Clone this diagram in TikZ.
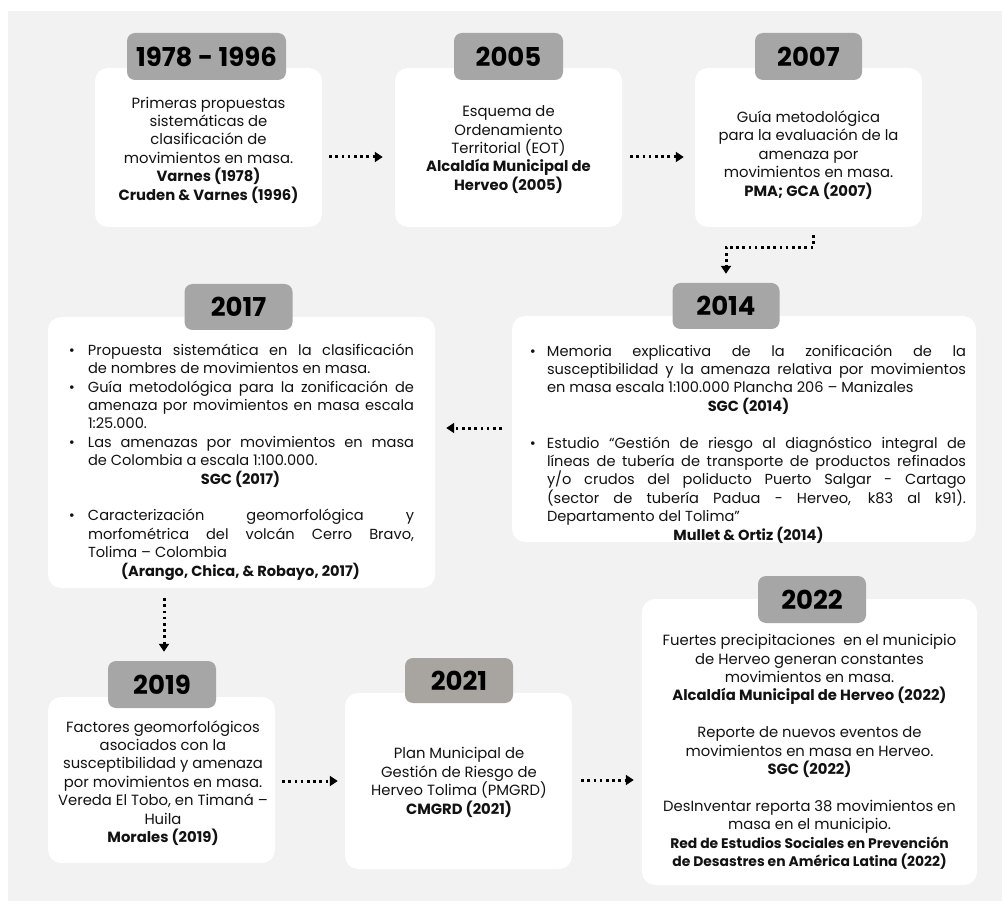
\documentclass[tikz,border=0pt]{standalone}
\usepackage{fontspec}
\setmainfont{Poppins}
\usetikzlibrary{calc,arrows.meta}
\definecolor{bg}{RGB}{242,242,242}
\definecolor{lab}{RGB}{166,166,166}
\definecolor{labw}{RGB}{168,165,160}
\definecolor{ink}{RGB}{18,18,18}
\newcommand\bitemA{\par\noindent\llap{\textbullet\hspace{13pt}}}
\newcommand\bitemB{\par\noindent\llap{\textbullet\hspace{11pt}}}
\newcommand\srcline[1]{\par{\leftskip 0pt plus 1fil\relax\rightskip 0pt plus 1fil\relax\parfillskip 0pt\relax\bfseries #1\par}}
\newcommand\blankline{\par\vspace{18.4pt}}
\newcommand\listsetup[1]{\parindent 0pt\relax\emergencystretch 2em\relax\hfuzz 20pt\relax\rightskip 0pt\relax\leftskip #1\relax}
\newcommand\smallbold[1]{{\fontsize{13.9}{18.4}\selectfont\bfseries #1}}
\tikzset{
  card/.style={fill=white, rounded corners=13pt, inner sep=0pt},
  yearbox/.style={fill=lab, rounded corners=8pt, inner sep=0pt, text=black,
    font=\fontsize{26}{28}\selectfont\bfseries},
  body/.style={align=center, inner sep=0pt, text=ink,
    font=\fontsize{14.8}{18.4}\selectfont},
  blist/.style={inner sep=0pt, text=ink, text width=#1, align=justify,
    font=\fontsize{14.6}{18.4}\selectfont},
  arr/.style={line width=3pt, dash pattern=on 2.6pt off 3.6pt,
    -{Triangle[length=8pt,width=10pt]}},
}
\begin{document}
\begin{tikzpicture}[x=1pt,y=-1pt]
\useasboundingbox (0,0) rectangle (1002,901);
\fill[bg] (8,11) rectangle (1002,901);

% cards
\node[card, minimum width=227, minimum height=159] (b1) at (208.5,147.5) {};
\node[card, minimum width=227, minimum height=159] (b2) at (508.5,147.5) {};
\node[card, minimum width=227, minimum height=159] (b3) at (808.5,147.5) {};
\node[card, minimum width=387, minimum height=271] (b17) at (241.5,452.5) {};
\node[card, minimum width=464, minimum height=226] (b14) at (744,429) {};
\node[card, minimum width=227, minimum height=166] (b19) at (161.5,780) {};
\node[card, minimum width=227, minimum height=176] (b21) at (458.5,781) {};
\node[card, minimum width=335, minimum height=286] (b22) at (809.5,742) {};

% year labels
\node[yearbox, minimum width=159, minimum height=47] (y1) at (206.5,56.5) {1978 - 1996};
\node[yearbox, minimum width=109, minimum height=47] (y2) at (508.5,56.5) {2005};
\node[yearbox, minimum width=107, minimum height=47] (y3) at (808.5,56.5) {2007};
\node[yearbox, minimum width=108, minimum height=46] (y17) at (238.5,307) {2017};
\node[yearbox, minimum width=107, minimum height=46] (y14) at (726,306) {2014};
\node[yearbox, minimum width=108, minimum height=47] (y19) at (162,684.5) {2019};
\node[yearbox, fill=labw, minimum width=108, minimum height=45] (y21) at (459,680.5) {2021};
\node[yearbox, minimum width=108, minimum height=47] (y22) at (812,599.5) {2022};

% texts
\node[body] (t1) at (208.5,150) {Primeras propuestas\\ sistemáticas de\\ clasificación de\\ movimientos en masa.\\ \textbf{Varnes (1978)}\\ \textbf{Cruden \& Varnes (1996)}};
\node[body] (t2) at (508.5,149.5) {Esquema de\\ Ordenamiento\\ Territorial (EOT)\\ \textbf{Alcaldía Municipal de}\\ \textbf{Herveo (2005)}};
\node[body] (t3) at (808.5,155) {Guía metodológica\\ para la evaluación de la\\ amenaza por\\ movimientos en masa.\\ \textbf{PMA; GCA (2007)}};

\node[blist=347pt] (t17) at (240.5,458.5) {\listsetup{21pt}%
\bitemA Propuesta sistemática en la clasificación \linebreak de nombres de movimientos en masa.
\bitemA Guía metodológica para la zonificación de \linebreak amenaza por movimientos en masa escala \linebreak 1:25.000.
\bitemA Las amenazas por movimientos en masa \linebreak de Colombia a escala 1:100.000.
\srcline{SGC (2017)}%
\blankline
\bitemA Caracterización geomorfológica y \linebreak morfométrica del volcán Cerro Bravo, \linebreak Tolima – Colombia
\srcline{(Arango, Chica, \& Robayo, 2017)}};

\node[blist=435pt] (t14) at (748.5,440.5) {\listsetup{16pt}%
\bitemB Memoria explicativa de la zonificación de la \linebreak susceptibilidad y la amenaza relativa por movimientos \linebreak en masa escala 1:100.000 Plancha 206 – Manizales
\srcline{SGC (2014)}%
\blankline
\bitemB Estudio “Gestión de riesgo al diagnóstico integral de \linebreak líneas de tubería de transporte de productos refinados \linebreak y/o crudos del poliducto Puerto Salgar - Cartago \linebreak (sector de tubería Padua - Herveo, k83 al k91). \linebreak Departamento del Tolima”
\srcline{Mullet \& Ortiz (2014)}};

\node[body] (t19) at (163,783) {Factores geomorfológicos\\ asociados con la\\ susceptibilidad y amenaza\\ por movimientos en masa.\\ Vereda El Tobo, en Timaná –\\ Huila\\ \textbf{Morales (2019)}};
\node[body] (t21) at (459,782.5) {Plan Municipal de\\ Gestión de Riesgo de\\ Herveo Tolima (PMGRD)\\ \textbf{CMGRD (2021)}};
\node[body] (t22) at (809.5,752) {Fuertes precipitaciones \ en el municipio\\ de Herveo generan constantes\\ movimientos en masa.\\ \textbf{Alcaldía Municipal de Herveo (2022)}\\[18.4pt] Reporte de nuevos eventos de\\ movimientos en masa en Herveo.\\ \textbf{SGC (2022)}\\[18.4pt] DesInventar reporta 38 movimientos en\\ masa en el municipio.\\ \smallbold{Red de Estudios Sociales en Prevención}\\ \smallbold{de Desastres en América Latina (2022)}};

% connectors
\draw[arr] ($(b1.east)+(7,9.5)$) -- ($(b2.west)+(-12,9.5)$);
\draw[arr] ($(b2.east)+(8,9.5)$) -- ($(b3.west)+(-11,9.5)$);
\draw[arr] ($(b3.south)+(5,8)$) -- ++(0,12) -| ($(y14.north)+(0,-9)$);
\draw[arr] ($(b14.west)+(-10,-1)$) -- ($(b17.east |- b14.west)+(11,-1)$);
\draw[arr] ($(b17.south -| y19.north)+(2,10)$) -- ($(y19.north)+(2,-9)$);
\draw[arr] ($(b19.east)+(7,1)$) -- ($(b21.west |- b19.east)+(-7,1)$);
\draw[arr] ($(b21.east)+(9,-1)$) -- ($(b22.west |- b21.east)+(-8,-1)$);
\end{tikzpicture}
\end{document}
